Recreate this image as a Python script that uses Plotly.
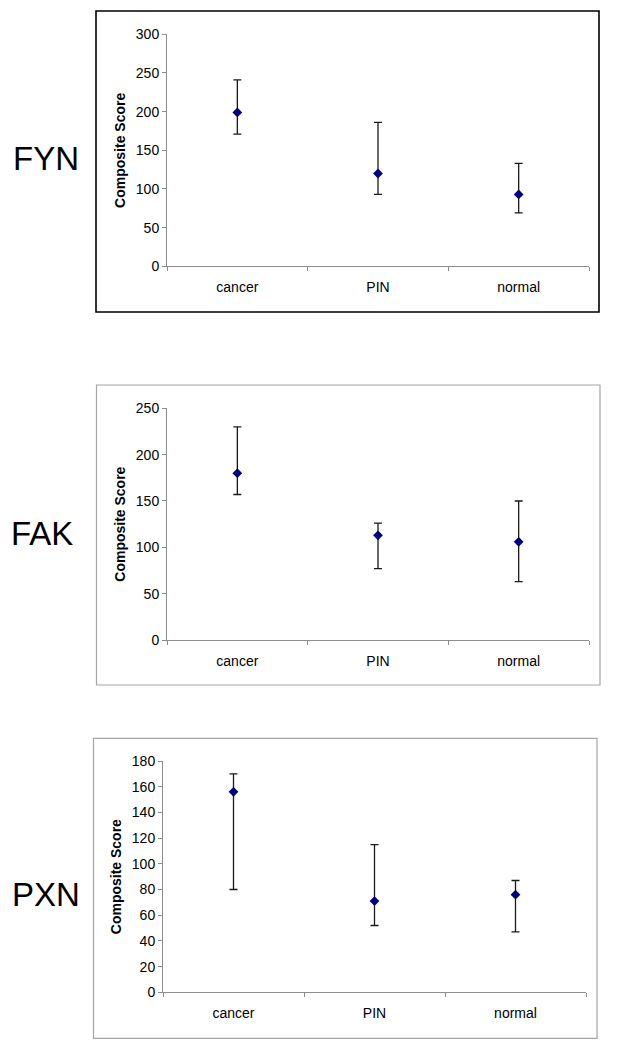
import plotly.graph_objects as go

# the page body keeps its default 8px margin, so the figure is sized to fit inside it
PAD = 8
W, H = 636 - 2 * PAD, 1050 - 2 * PAD

categories = ["cancer", "PIN", "normal"]
genes = ["FYN", "FAK", "PXN"]

fyn_mean = [199, 120, 93]
fyn_upper = [241, 186, 133]
fyn_lower = [171, 93, 69]

fak_mean = [180, 113, 106]
fak_upper = [230, 126, 150]
fak_lower = [157, 77, 63]

pxn_mean = [156, 71, 76]
pxn_upper = [170, 115, 87]
pxn_lower = [80, 52, 47]

y_max = [300, 250, 180]
y_step = [50, 50, 20]

FONT = "Liberation Sans, Arial, sans-serif"


# page pixel -> paper fraction
def px_x(v):
    return (v - PAD) / W


def px_y(v):
    return 1 - (v - PAD) / H


# panel layout in page pixels: plot area (x0, x1, ytop, ybottom), frame box, label centre
panels = [
    dict(plot=(167, 589, 34.3, 266.3), box=(96, 599, 11, 312), border="black", bw=1.6, label=(46, 158)),
    dict(plot=(167, 589, 408.3, 640), box=(96.5, 600, 385, 685), border="#a6a6a6", bw=1.2, label=(42, 533)),
    dict(plot=(163, 586, 761, 992.3), box=(93.5, 597, 738.3, 1038.3), border="#a6a6a6", bw=1.2, label=(46, 894)),
]

series = [
    (fyn_mean, fyn_upper, fyn_lower),
    (fak_mean, fak_upper, fak_lower),
    (pxn_mean, pxn_upper, pxn_lower),
]

fig = go.Figure()
layout = dict(
    width=W, height=H,
    margin=dict(l=0, r=0, t=0, b=0),
    paper_bgcolor="white", plot_bgcolor="white",
    showlegend=False,
    font=dict(family=FONT, color="black"),
)
shapes = []
annotations = []

for i, (p, (mean, upper, lower)) in enumerate(zip(panels, series)):
    n = "" if i == 0 else str(i + 1)
    fig.add_trace(go.Scatter(
        x=categories, y=mean,
        mode="markers",
        marker=dict(symbol="diamond", size=7.5, color="#000080"),
        error_y=dict(
            type="data", symmetric=False,
            array=[u - m for u, m in zip(upper, mean)],
            arrayminus=[m - l for m, l in zip(mean, lower)],
            color="#1a1a1a", thickness=1.3, width=4,
        ),
        xaxis="x" + n, yaxis="y" + n,
    ))
    x0, x1, yt, yb = p["plot"]
    layout["xaxis" + n] = dict(
        domain=[px_x(x0), px_x(x1)],
        anchor="y" + n,
        type="category", range=[-0.5, 2.5],
        tickson="boundaries", ticks="outside", ticklen=4, tickcolor="#8c8c8c",
        ticklabelstandoff=8,
        showline=True, linecolor="#8c8c8c", linewidth=1,
        showgrid=False, zeroline=False, automargin=False,
        tickfont=dict(size=14, family=FONT, color="black"),
    )
    layout["yaxis" + n] = dict(
        domain=[px_y(yb), px_y(yt)],
        anchor="x" + n,
        range=[0, y_max[i]], dtick=y_step[i],
        ticks="outside", ticklen=4, tickcolor="#8c8c8c",
        ticklabelstandoff=0,
        showline=True, linecolor="#8c8c8c", linewidth=1,
        showgrid=False, zeroline=False, automargin=False,
        tickfont=dict(size=14, family=FONT, color="black"),
        title=dict(text="<b>Composite Score</b>", font=dict(size=14, family=FONT, color="black"), standoff=6),
    )
    bx0, bx1, byt, byb = p["box"]
    shapes.append(dict(
        type="rect", xref="paper", yref="paper",
        x0=px_x(bx0), x1=px_x(bx1), y0=px_y(byb), y1=px_y(byt),
        line=dict(color=p["border"], width=p["bw"]),
        fillcolor="rgba(0,0,0,0)", layer="below",
    ))
    lx, ly = p["label"]
    annotations.append(dict(
        text=genes[i], xref="paper", yref="paper",
        x=px_x(lx), y=px_y(ly), xanchor="center", yanchor="middle",
        showarrow=False, font=dict(size=33, family=FONT, color="black"),
    ))

layout["shapes"] = shapes
layout["annotations"] = annotations
fig.update_layout(**layout)

fig.write_html("out.html")
